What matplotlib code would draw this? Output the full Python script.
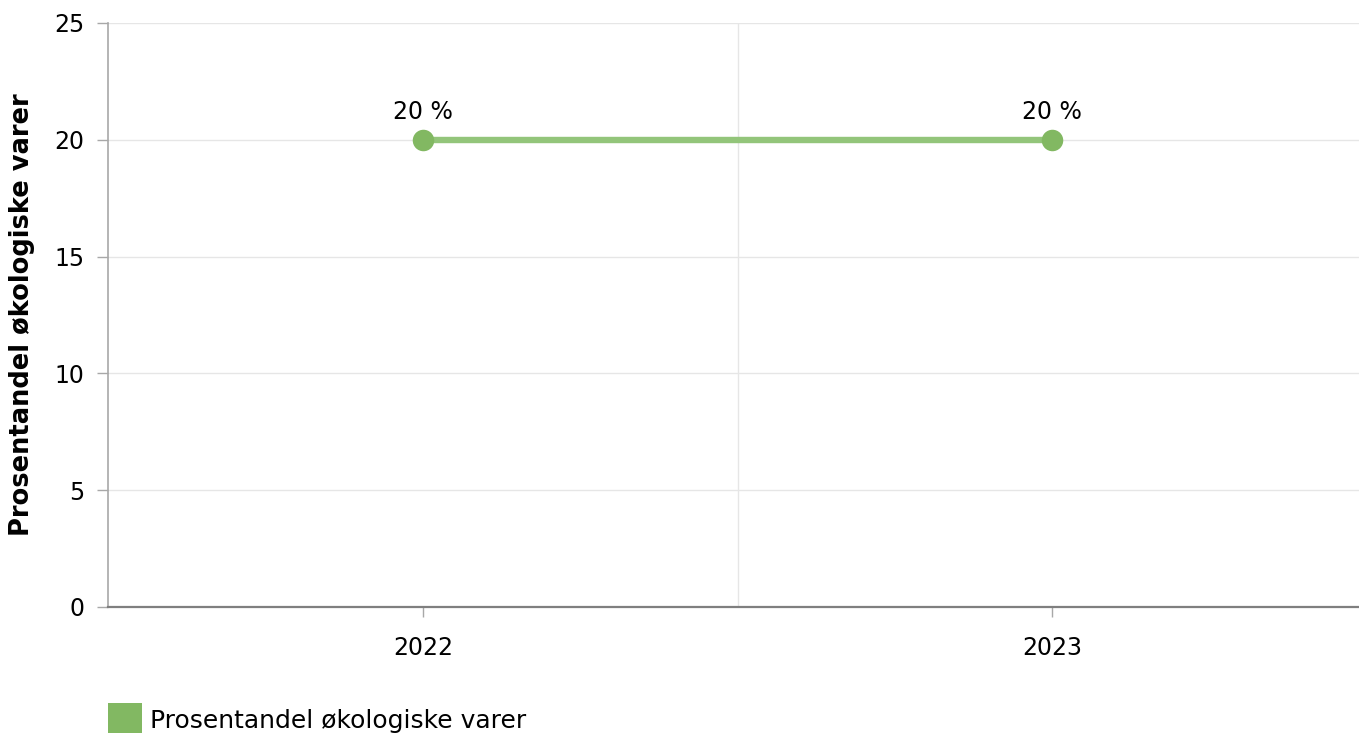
import matplotlib
matplotlib.use("Agg")
import matplotlib.pyplot as plt
from matplotlib.patches import Rectangle

categories = ["2022", "2023"]
values = [20, 20]
series_name = "Prosentandel økologiske varer"
y_label = "Prosentandel økologiske varer"
y_ticks = [0, 5, 10, 15, 20, 25]

line_color = "#93c57a"
marker_color = "#82b862"

W, H = 1359, 733
fig = plt.figure(figsize=(W / 100, H / 100), dpi=100)
plt.rcParams['font.family'] = ['DejaVu Sans']

left, right, top, bottom = 108, 1367, 23, 607
ax = fig.add_axes([left / W, (H - bottom) / H, (right - left) / W, (bottom - top) / H])

x = list(range(len(categories)))
ax.plot(x, values, color=line_color, lw=4.6, solid_capstyle="butt", zorder=3)
ax.scatter(x, values, s=240, color=marker_color, zorder=4, linewidths=0)
for xi, v in zip(x, values):
    ax.annotate(f"{v} %", (xi, v), xytext=(0, 20), textcoords="offset points",
                ha="center", va="center", fontsize=17, color="#000000")

ax.set_xlim(-0.5, len(categories) - 0.5)
ax.set_ylim(0, 25)
ax.set_yticks(y_ticks)
ax.set_xticks(x)
ax.set_xticklabels(categories)

# grid lines
for t in y_ticks[1:]:
    ax.axhline(t, color="#e6e6e6", lw=1, zorder=1)
for i in range(len(categories) - 1):
    ax.axvline(i + 0.5, color="#e6e6e6", lw=1, zorder=1)

for s in ["top", "right"]:
    ax.spines[s].set_visible(False)
ax.spines["left"].set_color("#a8a8a8")
ax.spines["left"].set_linewidth(1.2)
ax.spines["bottom"].set_color("#7f7f7f")
ax.spines["bottom"].set_linewidth(1.6)

ax.tick_params(axis="y", length=8, width=1, color="#a8a8a8", pad=9, labelsize=17, labelcolor="#000000")
ax.tick_params(axis="x", length=7, width=1, color="#a8a8a8", pad=14, labelsize=17, labelcolor="#000000")

fig.text(22 / W, 1 - 315 / H, y_label, rotation=90, ha="center", va="center",
         fontsize=18.5, fontweight="bold", color="#000000")

# legend
fig.patches.append(Rectangle((108 / W, 1 - 736 / H), 34 / W, 33 / H,
                             transform=fig.transFigure, color=marker_color, lw=0))
fig.text(150 / W, 1 - 721 / H, series_name, ha="left", va="center", fontsize=18, color="#000000")

fig.savefig("out.png", dpi=100)
